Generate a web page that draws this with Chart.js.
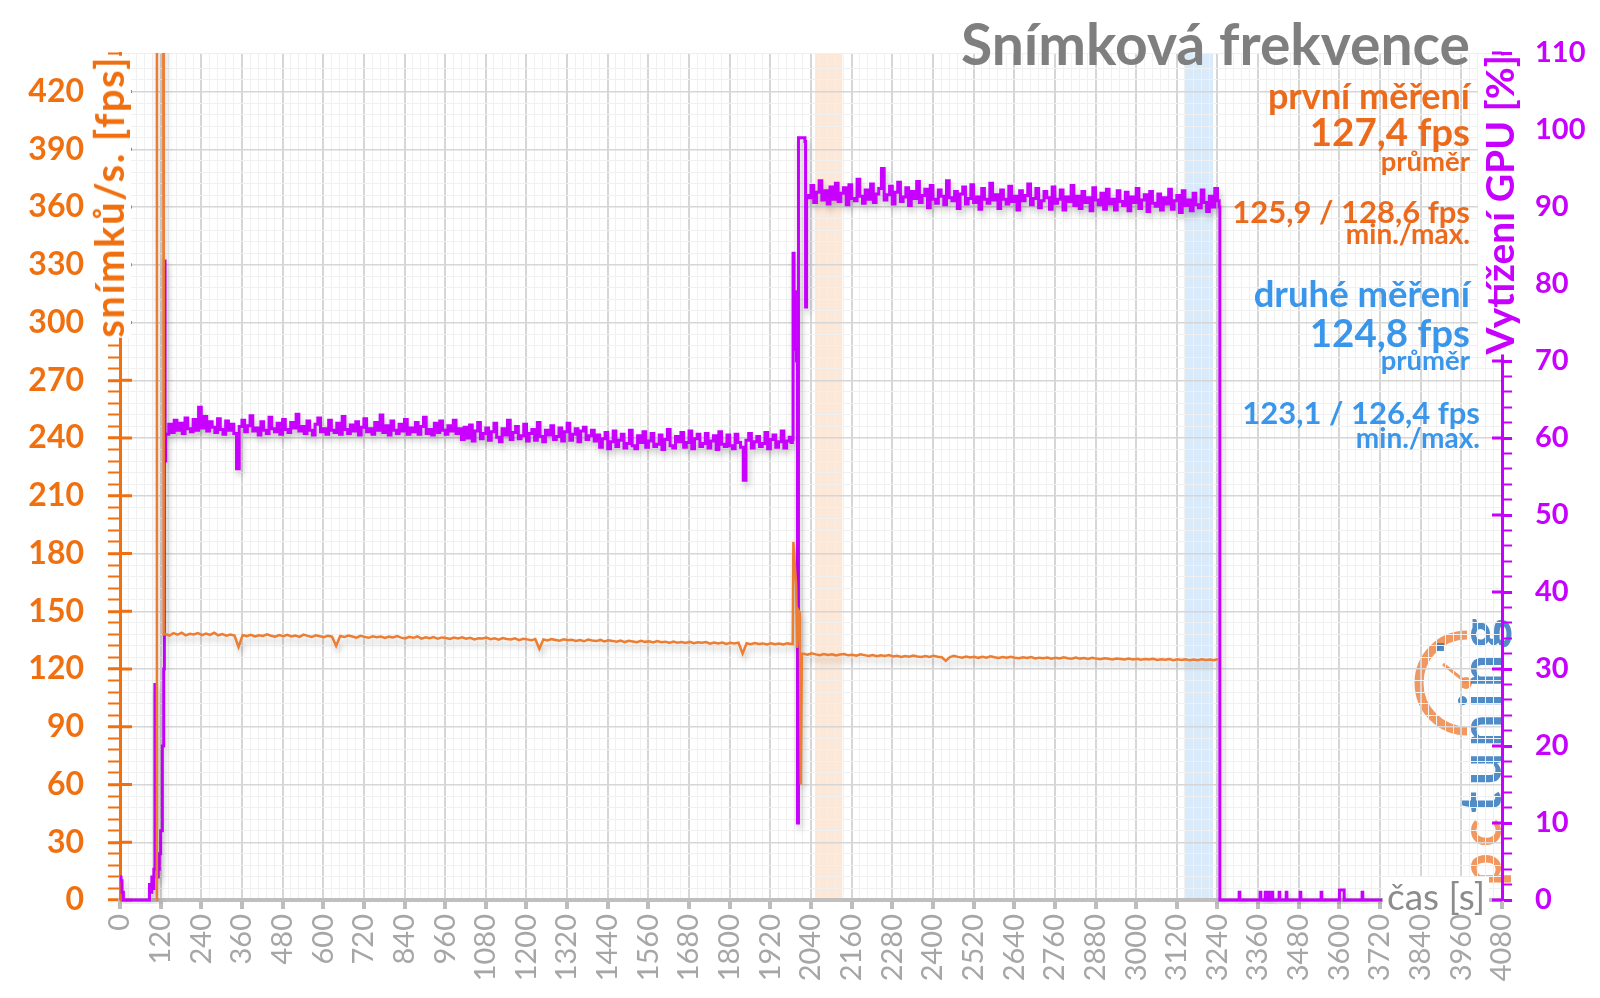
<!DOCTYPE html>
<html>
<head>
<meta charset="utf-8">
<script src="https://cdn.jsdelivr.net/npm/chart.js@4.4.1/dist/chart.umd.min.js"></script>
<style>
body { margin: 0; background: #fff; }
#wrap { position: relative; width: 1600px; height: 998px; font-family: Lato, 'Noto Sans', sans-serif; }
#wrap canvas { position: absolute; left: 0; top: 0; }
.t { position: absolute; line-height: 1; font-weight: 700; white-space: nowrap; text-align: right; }
.vt { position: absolute; writing-mode: vertical-rl; transform: rotate(180deg); line-height: 1; font-weight: 700; background: #fff; white-space: nowrap; }
</style>
</head>
<body>
<div id="wrap">
  <canvas id="ch" width="1600" height="998"></canvas>
  <div class="t" style="right:130px;top:15px;font-size:57px;color:#7f7f7f">Snímková frekvence</div>

  <div class="t" style="right:130px;top:77px;font-size:36px;color:#ec6a1c">první měření</div>
  <div class="t" style="right:130px;top:112px;font-size:38.5px;color:#ec6a1c">127,4 fps</div>
  <div class="t" style="right:130px;top:147px;font-size:27.5px;color:#ec6a1c">průměr</div>
  <div class="t" style="right:130px;top:196px;font-size:31px;color:#ec6a1c">125,9 / 128,6 fps</div>
  <div class="t" style="right:130px;top:219px;font-size:28px;color:#ec6a1c">min./max.</div>

  <div class="t" style="right:130px;top:275px;font-size:36.5px;color:#3a96ea">druhé měření</div>
  <div class="t" style="right:130px;top:313px;font-size:38.5px;color:#3a96ea">124,8 fps</div>
  <div class="t" style="right:130px;top:346px;font-size:27.5px;color:#3a96ea">průměr</div>
  <div class="t" style="right:120px;top:397px;font-size:31px;color:#3a96ea">123,1 / 126,4 fps</div>
  <div class="t" style="right:120px;top:423px;font-size:28px;color:#3a96ea">min./max.</div>

  <div class="vt" style="left:87px;top:56px;font-size:40px;letter-spacing:1.5px;color:#f07010;padding:0 2px">snímků/s. [fps]</div>
  <div class="vt" style="left:1478px;top:55px;font-size:39px;color:#c800ff;padding:0 2px">Vytížení GPU [%]</div>
  <div class="t" style="left:1383px;top:877px;font-size:37px;font-weight:400;color:#8c8c8c;background:#fff;padding:0 4px;text-align:left">čas [s]</div>
</div>
<script>
// snímková frekvence - časový průběh, GPU vytížení

// GPU [%] - rozjezd hry
var gpuStartSec = [0, 3, 6, 10, 84, 87, 90, 94, 97, 100, 103, 105, 107, 110, 113, 116, 120, 125, 129, 131, 133, 135];
var gpuStartPct = [3, 2.5, 1, 0, 0, 2, 1, 3, 1.5, 4, 28, 24, 5, 3, 4, 6, 9, 20, 30, 83, 57, 60.5];

// GPU [%] - první úsek, vzorek každých 8 s od 136 s
var gpuRun1 = [
  60.5,61.8,60.7,62.3,61.0,61.9,60.6,62.6,61.2,60.8,
  62.4,61.0,64.0,61.3,62.8,60.9,62.1,61.4,60.7,62.5,
  61.1,60.5,62.2,61.0,61.8,60.6,56.0,61.5,62.3,60.8,
  61.6,62.9,60.9,61.3,60.4,62.1,61.0,60.6,62.7,61.2,
  60.8,61.9,60.5,62.4,61.1,60.7,62.0,61.3,63.1,60.9,
  61.5,60.6,62.2,61.0,60.4,61.8,62.6,60.8,61.2,60.5,
  62.3,61.0,60.7,61.9,60.5,62.8,61.1,60.6,61.7,60.9,
  62.1,60.4,61.4,62.5,60.8,61.2,60.5,62.0,61.0,63.0,
  60.7,61.6,60.4,62.2,61.0,60.6,61.8,60.9,62.4,60.5,
  61.3,60.8,62.0,60.5,61.5,62.7,60.6,61.1,60.4,61.9,
  60.7,62.2,61.0,60.5,61.6,60.9,62.3,60.6,61.2,
  59.8,61.4,60.0,61.7,59.6,60.9,62.0,59.9,60.6,61.3,
  59.7,60.8,61.9,60.1,59.5,61.2,60.4,62.3,59.8,60.7,
  61.5,59.9,60.3,61.8,59.6,60.6,61.1,59.7,62.0,60.2,
  59.5,61.0,60.4,61.6,59.8,60.2,61.3,59.6,60.8,61.9,
  59.7,60.5,61.2,59.5,60.9,61.4,59.8,60.3,61.0,59.6,
  60.4,58.8,59.9,60.7,58.6,59.5,60.9,58.9,59.7,60.5,
  58.7,59.3,61.0,59.0,58.6,60.3,59.4,60.8,58.8,59.6,
  60.6,58.9,59.2,60.4,58.5,59.8,61.1,59.0,58.7,60.2,
  59.5,60.7,58.8,59.4,60.9,58.6,59.9,60.5,58.9,59.3,
  60.6,58.7,59.6,60.3,58.5,60.8,59.2,58.9,60.4,59.0,
  58.6,60.5,59.4,58.8,54.5,59.7,60.6,58.7,59.5,60.2,
  58.9,59.3,60.7,58.6,59.8,60.4,58.8,59.5,60.9,58.7,
  59.6,60.1
];

// GPU [%] - přechod mezi úseky
var gpuSwitchSec = [1981, 1985, 1987, 1990, 1994, 1997, 2000, 2003, 2009, 2022, 2024, 2027];
var gpuSwitchPct = [59.4, 59.8, 84, 79, 71.5, 70, 10, 99, 99, 98.5, 77, 91.5];

// GPU [%] - druhý úsek, vzorek každých 8 s od 2032 s
var gpuRun2 = [
  91.2,92.8,90.6,91.9,93.4,90.9,92.1,90.4,92.6,91.0,
  93.1,90.7,91.8,92.5,90.3,92.9,91.1,90.8,93.6,91.4,
  90.5,92.2,91.0,93.0,90.6,91.7,92.4,95.0,90.9,91.6,
  92.7,90.4,91.9,93.2,90.7,91.3,92.5,90.2,92.0,91.1,
  93.3,90.6,91.5,92.3,89.9,92.8,91.0,90.5,92.2,91.4,
  90.3,93.4,91.2,90.8,92.0,89.8,91.7,92.6,90.4,91.1,
  92.9,90.6,91.3,89.7,92.4,91.0,90.5,93.1,90.9,91.6,
  89.8,92.2,91.0,90.4,92.7,90.7,91.4,89.6,92.1,90.8,
  91.5,93.0,90.3,91.1,92.4,89.9,90.8,92.0,91.2,89.7,
  92.6,90.5,91.0,92.2,89.6,91.3,90.7,92.8,90.2,91.4,
  89.8,92.0,90.6,91.2,89.5,92.5,90.9,90.3,91.8,89.7,
  92.3,90.4,91.0,89.6,92.1,90.7,90.2,91.9,89.5,91.3,
  90.6,92.4,89.8,90.9,91.6,89.4,92.0,90.5,90.1,91.7,
  89.6,91.2,90.4,92.3,89.7,90.8,91.5,89.3,92.1,90.2,
  90.9,89.5,91.8,90.3,89.9,92.2,90.6,89.4,91.4,90.0,
  92.4,90.8
];

// GPU [%] - konec měření
var gpuEndSec = [3245, 3247, 3302, 3304, 3306, 3364, 3366, 3368, 3379, 3381, 3383, 3388, 3390, 3392, 3399, 3401, 3403,
  3420, 3422, 3424, 3441, 3443, 3445, 3482, 3484, 3486, 3544, 3546, 3548, 3598, 3600, 3612, 3614, 3665, 3667, 3669, 3726];
var gpuEndPct = [90, 0, 0, 1, 0, 0, 1, 0, 0, 1, 0, 0, 1, 0, 0, 1, 0,
  0, 1, 0, 0, 1, 0, 0, 1, 0, 0, 1, 0, 0, 1.3, 1.3, 0, 0, 1, 0, 0];

// fps - rozjezd (mimo graf nahoře)
var fpsStartSec = [107, 109, 127, 129];
var fpsStartVal = [0, 700, 700, 138];

// fps - první úsek, vzorek každých 12 s od 134 s
var fpsRun1 = [
  138.2,137.4,138.6,137.8,138.9,137.5,138.3,137.9,138.7,137.6,
  138.4,137.7,138.8,137.5,138.1,137.3,137.9,137.4,131.5,137.6,
  137.1,137.8,136.9,137.5,137.2,138.0,137.3,136.8,137.6,137.0,
  137.7,136.9,137.4,136.7,137.9,137.2,136.6,137.5,137.0,136.5,
  137.3,136.8,132.0,137.1,136.6,137.4,136.9,136.3,137.2,136.7,
  136.2,137.0,136.5,136.9,136.1,136.8,136.4,137.1,136.3,135.9,
  136.7,136.2,136.9,135.8,136.5,136.0,136.6,135.7,136.4,136.1,
  135.6,136.3,135.9,136.5,135.7,136.2,135.4,136.0,135.8,136.3,
  135.5,135.9,135.2,136.1,135.6,135.3,135.9,135.0,135.7,135.4,
  134.9,135.6,130.5,135.3,134.8,135.5,135.1,134.7,135.4,134.9,
  135.2,134.6,135.0,134.4,135.3,134.8,134.5,135.1,134.3,134.9,
  134.6,134.2,134.8,134.0,134.7,134.3,133.9,134.6,134.1,134.4,
  133.8,134.5,133.9,134.2,133.6,134.3,133.7,134.0,133.5,134.1,
  133.4,133.9,133.6,134.0,133.2,133.8,133.3,133.7,133.0,133.6,
  133.2,133.7,128.0,133.4,132.9,133.5,133.0,133.3,132.8,133.4,
  132.9,133.2,132.7,133.3,133.0
];

// fps - přechod
var fpsSwitchSec = [1986, 1988, 1991, 1996, 1999, 2004, 2007, 2010, 2013];
var fpsSwitchVal = [133, 186, 177, 164, 131, 150, 149, 60, 128];

// fps - druhý úsek, vzorek každých 12 s od 2018 s
var fpsRun2 = [
  127.9,127.4,128.1,127.6,127.2,127.8,127.3,127.6,127.0,127.5,
  127.8,127.1,127.4,126.9,127.6,127.2,126.8,127.3,126.6,127.1,
  126.8,127.2,126.5,126.9,126.3,126.8,126.4,127.0,126.5,126.2,
  126.7,126.3,126.9,126.4,126.1,124.2,126.2,126.8,126.3,125.9,
  126.5,126.0,126.4,125.8,126.3,125.9,126.6,126.1,125.7,126.2,
  125.8,126.3,125.9,125.6,126.1,125.7,126.2,125.5,125.9,125.6,
  126.0,125.4,125.8,125.5,126.1,125.6,125.3,125.9,125.4,125.7,
  125.2,125.8,125.4,125.1,125.6,125.3,125.0,125.5,125.2,124.9,
  125.4,125.0,125.3,124.8,125.2,124.9,125.3,124.7,125.1,124.8,
  125.2,124.6,125.0,124.7,125.1,124.5,124.9,124.6,125.0,124.7,
  124.9,124.6,125.2
];

// měřené úseky (podbarvení)
var bandFrom = [2052, 3144];
var bandTo = [2132, 3227];
var bandColors = ['rgba(251,219,196,0.65)', 'rgba(201,225,248,0.7)'];

function points(sec, val) {
  return sec.map(function (s, i) { return { x: s, y: val[i] }; });
}
function run(start, step, val) {
  return val.map(function (v, i) { return { x: start + i * step, y: v }; });
}

var gpuData = [].concat(points(gpuStartSec, gpuStartPct), run(136, 8, gpuRun1),
  points(gpuSwitchSec, gpuSwitchPct), run(2032, 8, gpuRun2), points(gpuEndSec, gpuEndPct));
var fpsData = [].concat(points(fpsStartSec, fpsStartVal), run(134, 12, fpsRun1),
  points(fpsSwitchSec, fpsSwitchVal), run(2018, 12, fpsRun2));

var orange = '#f07010';
var magenta = '#c800ff';

var decor = {
  id: 'decor',
  beforeDraw: function (chart) {
    var ctx = chart.ctx, a = chart.chartArea, x = chart.scales.x;
    ctx.save();
    for (var i = 0; i < bandFrom.length; i++) {
      var l = x.getPixelForValue(bandFrom[i]), r = x.getPixelForValue(bandTo[i]);
      ctx.fillStyle = bandColors[i];
      ctx.fillRect(l, a.top, r - l, a.bottom - a.top);
    }
    // logo
    ctx.globalAlpha = 0.9;
    ctx.strokeStyle = '#f08c4f';
    ctx.lineWidth = 9;
    ctx.beginPath();
    ctx.arc(1467, 683, 48, Math.PI * 0.5, Math.PI * 1.5);
    ctx.stroke();
    ctx.lineWidth = 3;
    ctx.beginPath(); ctx.moveTo(1467, 683); ctx.lineTo(1443, 664); ctx.stroke();
    ctx.fillStyle = '#f08c4f';
    ctx.beginPath(); ctx.arc(1466, 683, 6, 0, Math.PI * 2); ctx.fill();
    ctx.fillStyle = '#3f7fc0';
    ctx.fillRect(1436, 643, 8, 8);
    ctx.translate(1501, 886);
    ctx.rotate(-Math.PI / 2);
    ctx.font = 'bold 58px Lato';
    var word = 'pctuning', pos = 0;
    for (var k = 0; k < word.length; k++) {
      ctx.fillStyle = k < 2 ? '#f08c4f' : '#3f7fc0';
      ctx.fillText(word[k], pos, 0);
      pos += ctx.measureText(word[k]).width + 6;
    }
    ctx.restore();
  },
  beforeDatasetsDraw: function (chart) {
    var ctx = chart.ctx, a = chart.chartArea, y = chart.scales.y, y1 = chart.scales.y1;
    ctx.save();
    ctx.strokeStyle = orange;
    ctx.lineWidth = 3;
    for (var v = 0; v <= 420; v += 30) {
      var p = y.getPixelForValue(v);
      ctx.beginPath(); ctx.moveTo(a.left, p); ctx.lineTo(a.left + 12, p); ctx.stroke();
    }
    ctx.strokeStyle = magenta;
    for (var g = 0; g <= 110; g += 10) {
      var q = y1.getPixelForValue(g);
      ctx.beginPath(); ctx.moveTo(a.right - 10, q); ctx.lineTo(a.right, q); ctx.stroke();
    }
    ctx.restore();
    ctx.save();
    ctx.shadowColor = 'rgba(0,0,0,0.22)';
    ctx.shadowBlur = 6;
    ctx.shadowOffsetX = 2;
    ctx.shadowOffsetY = 5;
  },
  afterDatasetsDraw: function (chart) {
    chart.ctx.restore();
  }
};

var clip = { left: 0, top: 0, right: 0, bottom: 4 };

new Chart(document.getElementById('ch').getContext('2d'), {
  type: 'line',
  data: {
    datasets: [{
      label: 'Vytížení GPU [%]',
      data: gpuData,
      yAxisID: 'y1',
      borderColor: magenta,
      borderWidth: 3,
      pointRadius: 0,
      stepped: true,
      clip: clip,
      order: 2
    }, {
      label: 'snímků/s. [fps]',
      data: fpsData,
      yAxisID: 'y',
      borderColor: '#ed7d31',
      borderWidth: 2.5,
      pointRadius: 0,
      tension: 0,
      clip: clip,
      order: 1
    }]
  },
  options: {
    responsive: false,
    animation: false,
    devicePixelRatio: 1,
    layout: { padding: { top: 53 } },
    plugins: { legend: { display: false }, tooltip: { enabled: false } },
    scales: {
      x: {
        type: 'linear', min: 0, max: 4080,
        afterFit: function (s) { s.height = 98; },
        ticks: {
          stepSize: 24, autoSkip: false, maxRotation: 90, minRotation: 90, padding: 5,
          color: '#a6a6a6', font: { family: 'Lato', size: 29 },
          callback: function (v) { return v % 120 === 0 ? String(v) : ''; }
        },
        grid: {
          color: function (c) { return c.tick.value % 120 === 0 ? '#d6d6d6' : '#f0f0f0'; },
          lineWidth: function (c) { return c.tick.value % 120 === 0 ? 2 : 1; },
          tickColor: function (c) { return c.tick.value % 120 === 0 ? '#bdbdbd' : 'rgba(0,0,0,0)'; },
          tickWidth: 4, tickLength: 9
        },
        border: { color: '#bfbfbf', width: 4 }
      },
      y: {
        position: 'left', min: 0, max: 440,
        afterFit: function (s) { s.width = 120; },
        ticks: {
          stepSize: 6, autoSkip: false, padding: 24, color: orange,
          font: { family: 'Lato', size: 32, weight: 'bold' },
          callback: function (v) { return v % 30 === 0 ? String(v) : ''; }
        },
        grid: {
          color: function (c) { return c.tick.value % 30 === 0 ? '#d6d6d6' : '#f0f0f0'; },
          lineWidth: function (c) { return c.tick.value % 30 === 0 ? 1.5 : 1; },
          tickColor: orange,
          tickWidth: function (c) { return c.tick.value % 30 === 0 ? 3 : 2; },
          tickLength: 12
        },
        border: { color: orange, width: 3 }
      },
      y1: {
        position: 'right', min: 0, max: 110,
        afterFit: function (s) { s.width = 98; },
        ticks: {
          stepSize: 2, autoSkip: false, padding: 23, color: magenta,
          font: { family: 'Lato', size: 29, weight: 'bold' },
          callback: function (v) { return v % 10 === 0 ? String(v) : ''; }
        },
        grid: {
          drawOnChartArea: false,
          tickColor: magenta,
          tickWidth: function (c) { return c.tick.value % 10 === 0 ? 3 : 2; },
          tickLength: 10
        },
        border: { color: magenta, width: 3 }
      }
    }
  },
  plugins: [decor]
});
</script>
</body>
</html>
